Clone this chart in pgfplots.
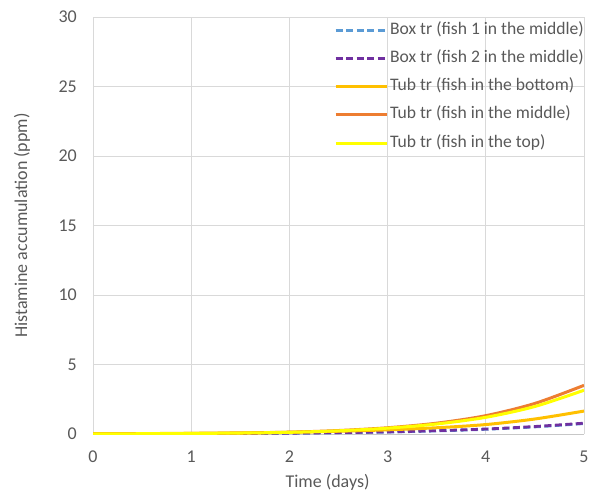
\documentclass[border=0pt]{standalone}
\usepackage{fontspec}
\setmainfont{Carlito}
\usepackage{pgfplots}
\pgfplotsset{compat=1.18}
\definecolor{tgray}{HTML}{595959}
\definecolor{gridc}{HTML}{D9D9D9}
\definecolor{cblue}{HTML}{5B9BD5}
\definecolor{cpurple}{HTML}{7030A0}
\definecolor{cgold}{HTML}{FFC000}
\definecolor{corange}{HTML}{ED7D31}
\definecolor{cyellow}{HTML}{FFFF00}
\begin{document}
\fontsize{18}{21}\selectfont
\begin{tikzpicture}[x=1pt,y=1pt]
\path[use as bounding box] (0,0) rectangle (596,496);
\begin{axis}[
  at={(93pt,62pt)}, anchor=south west,
  scale only axis, width=491pt, height=417pt,
  xmin=0, xmax=5, ymin=0, ymax=30,
  xtick={0,1,2,3,4,5}, ytick={0,5,10,15,20,25,30},
  /pgf/number format/assume math mode=true,
  tick style={draw=none},
  ticklabel style={font=\fontsize{18}{21}\selectfont, text=tgray},
  xticklabel style={anchor=center, yshift=-23pt},
  yticklabel style={anchor=east, xshift=-10pt},
  grid=major, grid style={gridc, line width=0.8pt},
  axis line style={draw=none},
  xlabel={Time (days)}, ylabel={Histamine accumulation (ppm)},
  label style={font=\fontsize{18}{21}\selectfont, text=tgray},
  xlabel style={at={(axis description cs:0.5,0)}, anchor=center, yshift=-48pt, xshift=-11pt},
  ylabel style={at={(axis description cs:0,0.5)}, anchor=center, rotate=0, yshift=71pt},
  legend style={at={(1,1)}, anchor=north east, xshift=2pt, yshift=-3pt, draw=none, fill=none,
    font=\fontsize{17.6}{20}\selectfont, text=tgray, row sep=8.2pt, inner sep=0pt,
    nodes={text height=12pt, text depth=4pt}},
  legend cell align=left,
  legend image code/.code={\draw[#1] (0pt,0pt) -- (51pt,0pt);},
]
\draw[gridc!80!gray, line width=1pt] (axis cs:0,0) -- (axis cs:5,0);
\addplot[cblue, dashed, dash pattern=on 7pt off 3.5pt, line width=2.8pt, smooth] coordinates {
(0,0.01)(0.5,0.01)(1,0.02)(1.5,0.03)(2,0.05)(2.5,0.09)(3,0.14)(3.5,0.22)(4,0.34)(4.5,0.51)(5,0.75)};
\addlegendentry{Box tr (fish 1 in the middle)}
\addplot[cpurple, dashed, dash pattern=on 7pt off 3.5pt, line width=2.8pt, smooth] coordinates {
(0,0.01)(0.5,0.01)(1,0.02)(1.5,0.04)(2,0.06)(2.5,0.10)(3,0.15)(3.5,0.24)(4,0.36)(4.5,0.54)(5,0.78)};
\addlegendentry{Box tr (fish 2 in the middle)}
\addplot[cgold, line width=3pt, smooth] coordinates {
(0,0.02)(0.5,0.03)(1,0.05)(1.5,0.08)(2,0.13)(2.5,0.20)(3,0.30)(3.5,0.45)(4,0.68)(4.5,1.08)(5,1.65)};
\addlegendentry{Tub tr (fish in the bottom)}
\addplot[corange, line width=3pt, smooth] coordinates {
(0,0.01)(0.5,0.02)(1,0.04)(1.5,0.07)(2,0.13)(2.5,0.25)(3,0.45)(3.5,0.78)(4,1.32)(4.5,2.2)(5,3.5)};
\addlegendentry{Tub tr (fish in the middle)}
\addplot[cyellow, line width=3pt, smooth] coordinates {
(0,0.01)(0.5,0.02)(1,0.04)(1.5,0.07)(2,0.12)(2.5,0.23)(3,0.42)(3.5,0.72)(4,1.2)(4.5,1.98)(5,3.15)};
\addlegendentry{Tub tr (fish in the top)}
\end{axis}
\end{tikzpicture}
\end{document}
